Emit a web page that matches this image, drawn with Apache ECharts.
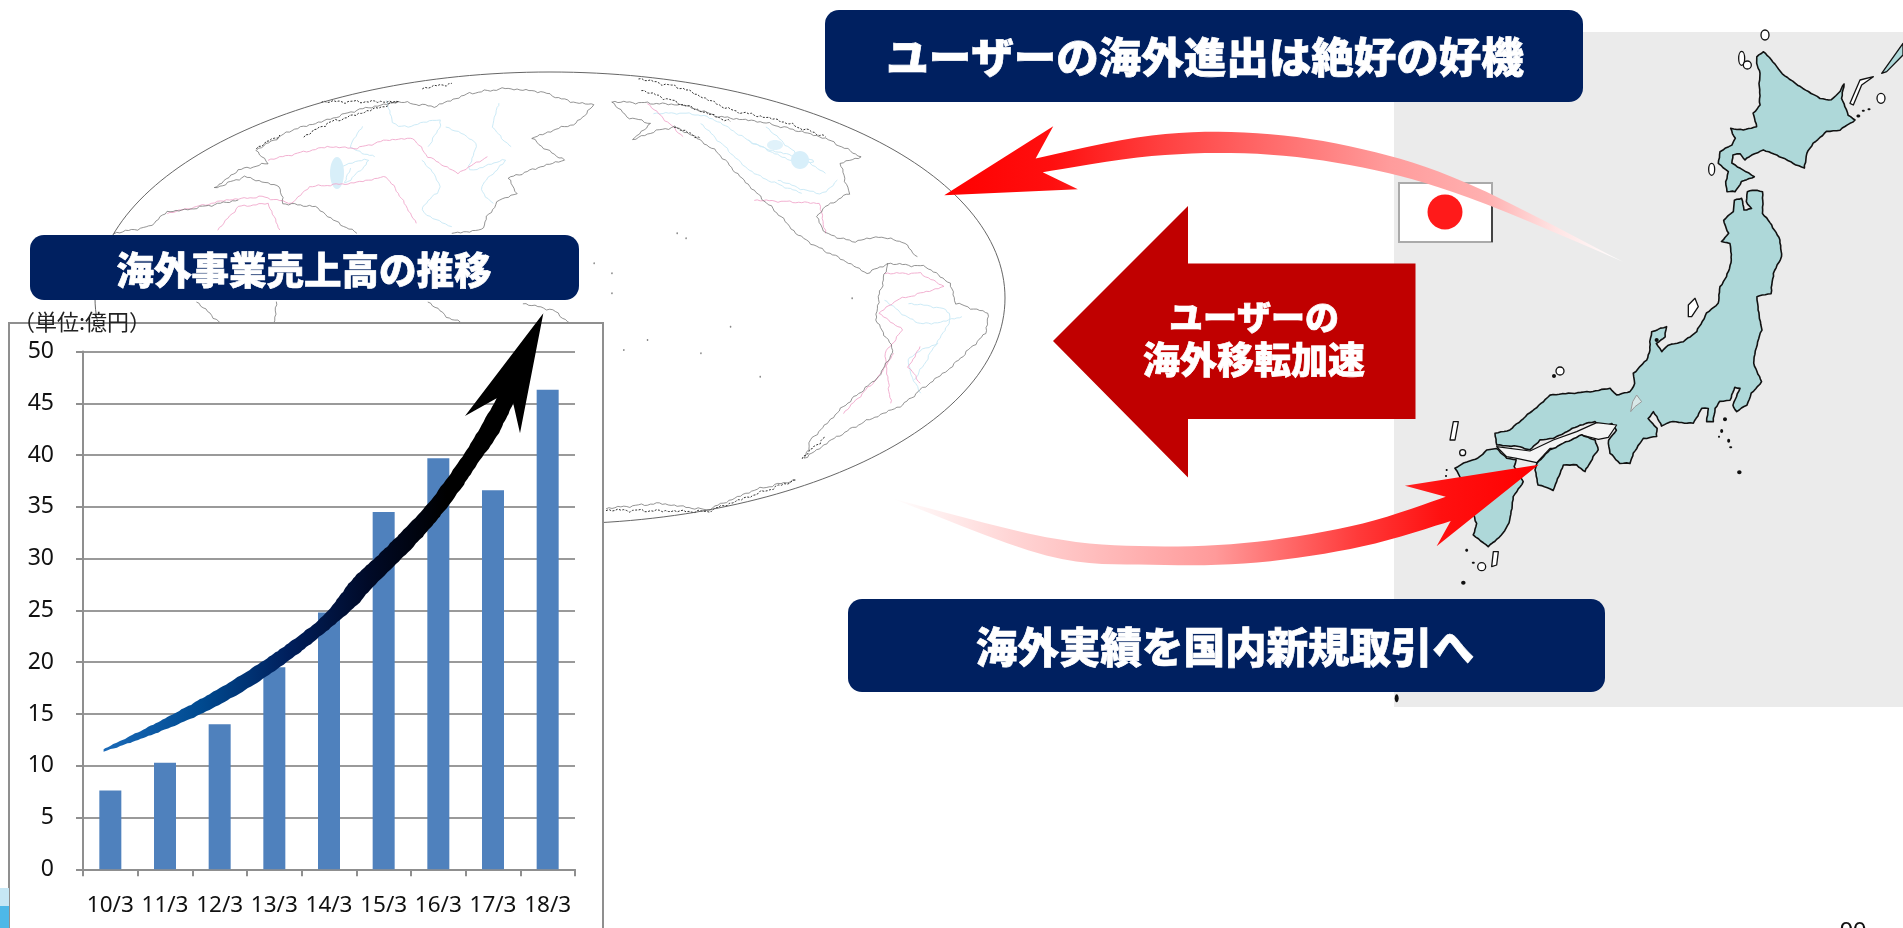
<!DOCTYPE html>
<html><head><meta charset="utf-8">
<style>html,body{margin:0;padding:0;background:#fff;overflow:hidden}#c{width:1903px;height:928px}</style>
<script src="https://cdn.jsdelivr.net/npm/echarts@6/dist/echarts.min.js"></script>
</head><body><div id="c"></div>
<script>
// ---- chart data ----
const categories = ['10/3','11/3','12/3','13/3','14/3','15/3','16/3','17/3','18/3'];
const salesValues = [7.6,10.3,14,19.5,24.8,34.5,39.7,36.6,46.3];
const unitLabel = '（単位:億円）';
const titleTop = 'ユーザーの海外進出は絶好の好機';
const titleBottom = '海外実績を国内新規取引へ';
const titleChart = '海外事業売上高の推移';
const arrowLines = ['ユーザーの','海外移転加速'];
const pageNo = '90';

// ---- helpers for the decorative illustration ----
const CJK = '"Noto Sans CJK JP","Noto Sans",sans-serif';
const z1 = p => [p[0]/2.53, 220+p[1]/2.215];
const z2 = p => [800+p[0]/1.4216, p[1]/2.178];
const z3 = p => [90+p[0]/1.686, 60+p[1]/3];
const z5 = p => [1390+p[0]/3, 30+p[1]/3];
const z6 = p => [1390+p[0]/3, 350+p[1]/3];
const z8 = p => [300+p[0]/3, 310+p[1]/3];
function spline(pts,n=8){
  const o=[];
  for(let i=0;i<pts.length-1;i++){
    const a=pts[Math.max(i-1,0)],b=pts[i],c=pts[i+1],d=pts[Math.min(i+2,pts.length-1)];
    for(let k=0;k<n;k++){const t=k/n,t2=t*t,t3=t2*t;
      o.push([0,1].map(j=>.5*(2*b[j]+(c[j]-a[j])*t+(2*a[j]-5*b[j]+4*c[j]-d[j])*t2+(3*b[j]-a[j]-3*c[j]+d[j])*t3)));}
  }
  o.push(pts[pts.length-1]);return o;
}
// turns a simplified outline into a slightly irregular hand-drawn coast
function rough(pts,amp=.6){
  const o=[];let c=0;
  for(let i=0;i<pts.length-1;i++){
    const a=pts[i],b=pts[i+1],dx=b[0]-a[0],dy=b[1]-a[1],L=Math.hypot(dx,dy)||1,n=Math.max(1,Math.round(L/3));
    for(let k=0;k<n;k++){c++;const w=amp*(Math.sin(c*2.3)+.8*Math.sin(c*.91)+.6*Math.sin(c*5.1));
      o.push([a[0]+dx*k/n-dy/L*w,a[1]+dy*k/n+dx/L*w]);}
  }
  o.push(pts[pts.length-1]);return o;
}
const els=[];
const poly=(points,fill,stroke,lw,z=-1,extra={})=>els.push({type:'polygon',silent:true,z,shape:{points},style:Object.assign({fill,stroke:stroke||null,lineWidth:lw||0,lineJoin:'round'},extra)});
const line=(points,stroke,lw,z=-3,dash)=>els.push({type:'polyline',silent:true,z,shape:{points},style:{stroke,lineWidth:lw,fill:null,lineJoin:'round',lineDash:dash||null}});
const rrect=(x,y,w,h,r,fill,stroke,lw,z=-1)=>els.push({type:'rect',silent:true,z,shape:{x,y,width:w,height:h,r},style:{fill,stroke:stroke||null,lineWidth:lw||0}});
const txt=(text,x,y,size,fill,z=-1,bold=true,align='center',base='middle',ff=CJK)=>els.push({type:'text',silent:true,z,x,y,style:{text,x:0,y:0,fill,font:(bold?'900 ':'')+size+'px '+ff,align,verticalAlign:base,stroke:bold?fill:null,lineWidth:bold?.7:0}});
const blob=(cx,cy,rx,ry,fill,stroke,lw,z=-1)=>els.push({type:'ellipse',silent:true,z,shape:{cx,cy,rx,ry},style:{fill,stroke:stroke||null,lineWidth:lw||0}});

// ---- world map (simplified) ----
const coast='#666', border='#f0a8cc', river='#cdebf7';
[
 [[440,325],[430,370],[470,300],[420,320]],
 [[600,200],[650,250],[640,330],[700,300],[660,380],[680,430]],
 [[500,120],[520,200],[590,180],[570,260]],
 [[460,200],[440,260],[480,290]],[[560,300],[590,380],[560,450],[610,500]],
 [[690,130],[680,200],[710,260]],
 [[950,160],[1040,170],[1130,260],[1220,300],[1180,300],[1110,240]],
 [[1030,190],[1070,260],[1120,340],[1200,400]],[[1140,200],[1190,280],[1240,340]],
 [[1160,360],[1230,400],[1260,360]],
 [[1380,730],[1450,760],[1420,870],[1390,960]],[[1340,720],[1400,790],[1470,770]],[[1400,1000],[1380,900],[1430,850]]
].forEach(l=>line(rough(spline(l,4).map(z3),.5),river,1));
els.push({type:'ellipse',silent:true,z:-3,shape:{cx:337,cy:173,rx:7,ry:16},style:{fill:'#d8eff9'}});
els.push({type:'ellipse',silent:true,z:-3,shape:{cx:800,cy:160,rx:9,ry:9},style:{fill:'#d8effa'}});
els.push({type:'ellipse',silent:true,z:-3,shape:{cx:775,cy:145,rx:8,ry:5},style:{fill:'#e0f2fa'}});
[
 [[300,300],[400,260],[450,265],[500,240],[545,235],[570,290],[620,340],[670,290]],
 [[130,460],[230,420],[290,410],[340,430],[370,380],[440,370],[500,350],[520,400],[550,490]],
 [[215,510],[250,440],[300,430],[320,510]],
 [[940,130],[1000,230]],
 [[1120,420],[1230,430],[1240,520]],
 [[1340,640],[1400,640],[1440,680],[1360,720],[1330,760],[1370,810],[1340,880],[1350,1030]],
 [[1400,860],[1380,920],[1400,970]],
 [[1270,1060],[1330,950],[1355,880]]
].forEach(l=>line(rough(l.map(z3),.5),border,.9));
[
 [[280,270],[340,210],[400,180],[450,150],[520,125],[580,140],[640,100],[700,85],[760,95],[810,125],[850,135],[820,190],[790,205],[745,235],[770,270],[800,300],[760,320],[705,355],[720,400],[690,420],[670,470],[660,510],[610,520]],
 [[280,270],[300,310],[250,330],[210,385],[260,350],[320,380],[325,430],[380,440],[410,480],[450,520]],
 [[40,520],[100,500],[130,455],[160,450],[250,420]],
 [[180,725],[220,790]],[[315,725],[310,790]],
 [[570,725],[610,780],[640,790]],[[730,730],[780,750],[810,790]],
 [[880,125],[905,170],[945,190],[915,240],[950,215],[985,200],[1020,230],[1060,280],[1085,330],[1130,410],[1165,470],[1190,520],[1225,560],[1270,600],[1310,640],[1345,610]],
 [[880,125],[950,130],[1000,135],[1060,170],[1130,185],[1200,215],[1240,235],[1300,290],[1265,310],[1280,400],[1240,440],[1225,470],[1240,520],[1285,545],[1330,530],[1370,545],[1395,590]],
 [[1345,610],[1410,620],[1450,670],[1460,730],[1515,760],[1510,820],[1450,925],[1400,990],[1370,1035],[1300,1090],[1250,1140],[1205,1195],[1215,1140],[1270,1040],[1330,950],[1355,870],[1325,780],[1330,710],[1345,610]],
 [[870,1345],[960,1330],[1040,1350],[1120,1290],[1190,1260]]
].forEach(l=>line(rough(l.map(z3)),coast,.7));
[[[925,55],[1000,85],[1080,150],[1160,180],[1240,230]],[[930,90],[1010,140],[1080,185]],[[985,200],[1030,235]],[[1200,1195],[1240,1130]],[[360,230],[400,190],[520,125]],[[280,265],[320,225]],[[390,125],[520,125]],[[560,85],[610,70]],[[870,1350],[1040,1355],[1190,1260]]]
 .forEach(l=>line(rough(l.map(z3),.8),'#333',1,-3,[2,1.5]));
[[990,520],[1005,535],[880,640],[880,700],[1285,715],[900,870],[940,840],[1030,880],[1080,800],[1130,950],[850,610]].forEach(p=>{const q=z3(p);blob(q[0],q[1],.8,1,'#888',null,0,-3)});
els.push({type:'ellipse',silent:true,z:-2,shape:{cx:550,cy:298,rx:455,ry:226},style:{fill:null,stroke:'#555',lineWidth:.9}});

// ---- Japan panel ----
rrect(1394,32,509,675,0,'#ebebeb',null,0,-3);
const jp='#aed8d9',k='#111';
poly(rough([[1100,80],[1120,65],[1150,95],[1170,125],[1215,160],[1255,185],[1290,205],[1325,210],[1345,190],[1362,162],[1355,205],[1375,255],[1395,270],[1350,300],[1310,305],[1270,340],[1250,370],[1243,415],[1210,400],[1160,375],[1120,360],[1085,375],[1065,390],[1050,370],[1030,375],[1025,400],[1060,420],[1093,440],[1055,455],[1035,485],[1012,485],[1007,455],[1015,425],[985,400],[990,365],[1025,345],[1035,325],[1022,295],[1060,300],[1100,290],[1090,250],[1110,225],[1108,170],[1110,130],[1100,100]].map(z5),.25),jp,k,1.6);
poly(rough([[1033,510],[1055,505],[1062,540],[1085,535],[1068,515],[1072,485],[1095,480],[1118,485],[1118,550],[1145,585],[1170,630],[1175,680],[1150,730],[1143,790],[1100,800],[1105,840],[1115,900],[1100,945],[1090,1000]].map(z5).concat(
 [[1115,95],[1085,130],[1070,165],[1040,185],[1028,165],[1050,115],[1035,112],[1020,150],[990,155],[975,175],[970,215],[950,215],[955,175],[935,175],[910,220],[840,215],[815,228],[800,200],[790,185],[775,205],[800,235],[800,260],[760,265],[730,310],[720,340],[690,340],[660,310],[655,270],[680,240],[665,220],[640,235],[615,215],[570,225],[540,240],[490,265],[450,270],[420,300],[390,290],[320,285],[315,250],[360,240],[400,205],[460,155],[480,135],[600,125],[660,115],[680,135],[720,125],[735,100],[730,70],[770,30]].map(z6),
 [[780,960],[780,935],[785,905],[830,890],[825,920],[800,940],[815,965],[835,945],[880,935],[920,905],[950,850],[985,820],[990,770],[1010,740],[1025,690],[1020,640],[995,635],[1015,610],[1000,570],[1030,545]].map(z5)),.25),jp,k,1.6);
poly([[320,290],[420,303],[490,270],[560,245],[620,218],[680,225],[655,262],[625,268],[575,255],[520,295],[480,295],[440,338],[380,325],[350,320]].map(z6),'#f4f4f4',k,1.2);
poly(rough([[440,340],[480,300],[520,280],[575,255],[615,270],[625,300],[610,320],[585,365],[560,345],[520,345],[490,420],[445,405],[435,360]].map(z6),.25),jp,k,1.6);
poly(rough([[320,295],[350,325],[380,330],[372,350],[400,395],[370,440],[360,510],[340,550],[295,590],[250,555],[260,520],[210,380],[195,355],[230,335],[265,325],[290,300]].map(z6),.25),jp,k,1.6);
poly([[740,135],[755,155],[735,170],[722,185],[728,155]].map(z6),'#d8e8e8','#999',1);
poly([[1380,220],[1410,150],[1450,140],[1415,165],[1390,225]].map(z5),'#fff',k,1.3);
poly([[1475,130],[1539,40],[1539,75],[1490,125]].map(z5),jp,k,1.3);
poly([[895,825],[915,805],[925,830],[905,860],[895,860]].map(z5),'#fff',k,1.3);
poly([[190,215],[205,215],[195,270],[180,270]].map(z6),'#fff',k,1.3);
poly([[310,605],[325,605],[320,645],[305,650]].map(z6),'#fff',k,1.3);
[[1055,85,3,7],[1072,105,4,4],[965,418,3,6],[1125,15,4,5],[510,1023,4,4],[1473,205,4,5]].forEach(a=>{const p=z5(a);blob(p[0],p[1],a[2],a[3],'#fff',k,1.3)});
[[1405,258,2,1.5],[1420,242,1.5,1],[1437,238,1.5,1],[492,1038,2,2],[800,930,2,2]].forEach(a=>{const p=z5(a);blob(p[0],p[1],a[2],a[3],k)});
[[1005,208,2,2],[995,243,1.5,2],[987,260,1,1],[1016,272,1.5,2],[1022,292,1.5,1],[1048,367,2.2,2],[220,698,2.2,2],[230,601,1.5,1.5],[250,638,1.5,1],[170,360,1,1],[168,378,1,1],[20,1045,2,4]].forEach(a=>{const p=z6(a);blob(p[0],p[1],a[2],a[3],k)});
[[218,308,3,3],[275,650,4,4]].forEach(a=>{const p=z6(a);blob(p[0],p[1],a[2],a[3],'#fff',k,1.3)});

// ---- flag ----
rrect(1399,183,93,59,0,'#fff','#aaa',2,-1);
line([[1492,200],[1492,242]],'#222',1.5,-1);
blob(1445,212,17.5,17.5,'#ff1a1a');

// ---- red curved arrows ----
const topUp=spline([[335,345],[500,295],[650,290],[800,325],[950,400],[1170,570]].map(z2));
const topLo=spline([[345,375],[500,340],[650,335],[800,365],[950,430],[1170,570]].map(z2));
poly([[205,425],[360,275]].map(z2).concat(topUp,topLo.slice().reverse(),[[395,412]].map(z2)),
 {type:'linear',x:0,y:0,x2:1,y2:0,colorStops:[{offset:0,color:'#ff0000'},{offset:.16,color:'#ff0f0f'},{offset:.32,color:'#ff4040'},{offset:.5,color:'#ff7070'},{offset:.657,color:'#ff9c9c'},{offset:.8,color:'#ffb0b0'},{offset:.9,color:'#ffe4e4'},{offset:1,color:'#ffffff'}]},null,0,-1);
const botUp=spline([[130,1085],[350,1170],[500,1190],[650,1180],[800,1140],[918,1082]].map(z2));
const botLo=spline([[130,1085],[350,1210],[500,1230],[650,1225],[800,1190],[925,1135]].map(z2));
poly(botUp.concat([z2([860,1058]),z2([1050,1012]),z2([905,1190])],botLo.slice().reverse()),
 {type:'linear',x:0,y:0,x2:1,y2:0,colorStops:[{offset:0,color:'#ffffff'},{offset:.18,color:'#ffd6d6'},{offset:.5,color:'#ff9a9a'},{offset:.72,color:'#ff3a3a'},{offset:.85,color:'#ff1010'},{offset:1,color:'#ff0000'}]},null,0,-1);

// ---- big red arrow ----
poly([[1053,341],[1188,206],[1188,263.5],[1415.5,263.5],[1415.5,419],[1188,419],[1188,477.5]],'#c00000');
txt(arrowLines[0],1254,317,34,'#fff');
txt(arrowLines[1],1254,360,37,'#fff');

// ---- title boxes ----
rrect(825,10,758,92,14,'#002060');
txt(titleTop,1205,57,42.5,'#fff');
rrect(848,599,757,93,14,'#002060');
txt(titleBottom,1225,647,41.5,'#fff');

// ---- chart frame ----
rrect(9,323,594,640,0,'#fff','#8f8f8f',2,-1);
rrect(30,235,549,65,14,'#002060');
txt(titleChart,304,270,37.5,'#fff');
txt(unitLabel,13,322,22,'#222',1,false,'left');

// ---- black growth arrow ----
const bUp=spline([[262,1172],[400,1112],[540,1045],[660,980],[780,905]].map(z1).concat([[90,895],[160,805],[240,730],[320,650],[385,580],[445,500],[500,420],[545,345],[590,265]].map(z8)));
const bLo=spline([[640,280],[590,380],[540,450],[480,540],[415,625],[340,710],[280,770],[210,840],[160,895]].map(z8).concat([[770,950],[650,1025],[530,1085],[400,1135],[262,1178]].map(z1)));
poly(rough(bUp,.2).concat([z8([495,318]),z8([730,10]),z8([660,370])],rough(bLo,.2)),
 {type:'linear',x:0,y:0,x2:1,y2:0,colorStops:[{offset:0,color:'#1a6ab8'},{offset:.22,color:'#004a90'},{offset:.42,color:'#001f5c'},{offset:.6,color:'#000a28'},{offset:.78,color:'#000'},{offset:1,color:'#000'}]},null,0,10);

// ---- corner pieces and page number ----
rrect(0,888,9,18,0,'#c6e7f5',null,0,1);
rrect(0,906,9,22,0,'#4db8e8',null,0,1);
txt(pageNo,1853,920,24,'#111',1,false,'center','top','"Liberation Sans",sans-serif');

const chart=echarts.init(document.getElementById('c'),null,{renderer:'canvas'});
chart.setOption({
  animation:false,
  backgroundColor:'#fff',
  grid:{left:83,top:351.5,width:492,height:517.8,containLabel:false},
  xAxis:{type:'category',data:categories,
    axisLine:{lineStyle:{color:'#8f8f8f',width:2}},
    axisTick:{show:true,alignWithLabel:false,length:7,lineStyle:{color:'#8f8f8f',width:2}},
    axisLabel:{color:'#111',fontSize:22.5,margin:25,fontFamily:'"Noto Sans",sans-serif',interval:0},
    splitLine:{show:false}},
  yAxis:{type:'value',min:0,max:50,interval:5,
    axisLine:{show:true,lineStyle:{color:'#8f8f8f',width:2}},
    axisTick:{show:true,length:7,lineStyle:{color:'#8f8f8f',width:2}},
    axisLabel:{color:'#111',fontSize:23,margin:29,fontFamily:'"Noto Sans",sans-serif'},
    splitLine:{show:true,lineStyle:{color:'#9a9a9a',width:2}}},
  series:[{type:'bar',data:salesValues,barWidth:22,itemStyle:{color:'#4f81bd'},silent:true}],
  graphic:{elements:els}
});
</script></body></html>
